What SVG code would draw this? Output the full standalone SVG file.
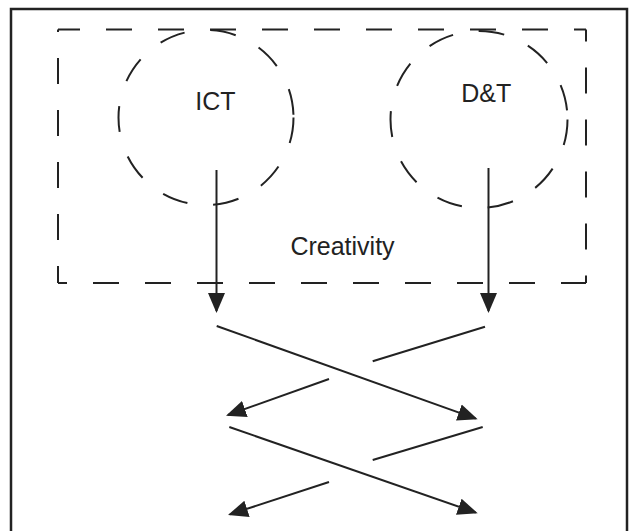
<svg xmlns="http://www.w3.org/2000/svg" width="640" height="531" viewBox="0 0 640 531">
  <style>
    .ln { stroke: #222; stroke-width: 2; fill: none; }
    .dash { stroke: #222; stroke-width: 2; fill: none; stroke-dasharray: 26 26; }
    .lbl { font-family: "Liberation Sans", Arial, sans-serif; font-size: 25px; fill: #222; text-anchor: middle; }
    .arr { marker-end: url(#ah); }
  </style>
  <defs>
    <marker id="ah" viewBox="0 0 20 18" refX="18" refY="9" markerWidth="20" markerHeight="18" markerUnits="userSpaceOnUse" orient="auto">
      <path d="M0,0.5 L20,9 L0,17.5 Z" fill="#222"/>
    </marker>
  </defs>
  <rect x="0" y="0" width="640" height="531" fill="#fff"/>
  <g id="frame">
    <rect x="11" y="9" width="616" height="540" fill="none" stroke="#222" stroke-width="2.5"/>
  </g>
  <g id="creativity">
    <path class="dash" d="M58 29.5 H586" stroke-dashoffset="4"/>
    <path class="dash" d="M586 29.5 V283" stroke-dashoffset="14"/>
    <path class="dash" d="M58 283 H586" stroke-dashoffset="17"/>
    <path class="dash" d="M58 29.5 V283" stroke-dashoffset="23.5"/>
    <text class="lbl" x="342.5" y="255">Creativity</text>
  </g>
  <g id="ict">
    <circle class="dash" cx="206" cy="117.5" r="87.5"/>
    <text class="lbl" x="215.5" y="110">ICT</text>
  </g>
  <g id="dt">
    <circle class="dash" cx="479" cy="119.5" r="88.5"/>
    <text class="lbl" x="486.3" y="102">D&amp;T</text>
  </g>
  <g id="connectors">
    <path class="ln arr" d="M216.5 170 V311"/>
    <path class="ln arr" d="M488.5 168 V311"/>
    <path class="ln arr" d="M216.7 326 L475.8 418.6"/>
    <path class="ln" d="M485 326.7 L372.7 361.3"/>
    <path class="ln arr" d="M329 379 L227.9 415"/>
    <path class="ln arr" d="M229.3 427 L475.8 512.6"/>
    <path class="ln" d="M482.7 427 L372.7 460"/>
    <path class="ln arr" d="M329 482 L229.9 514.4"/>
  </g>
</svg>
